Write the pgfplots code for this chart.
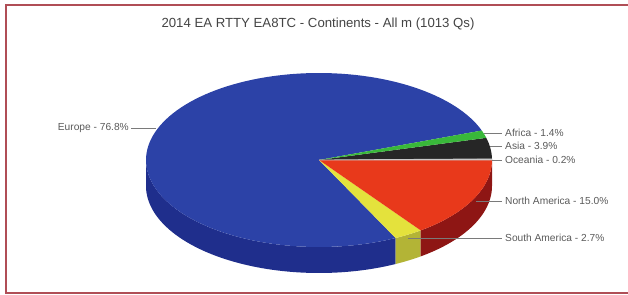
\documentclass[border=0pt]{standalone}
\usepackage{pgfplots}
\pgfplotsset{compat=1.18}
\usepackage{pgfplotstable}
\usepackage{fontspec}
\setmainfont{Liberation Sans}

\definecolor{euT}{HTML}{2C42A7}
\definecolor{euS}{HTML}{1F2E8C}
\definecolor{naT}{HTML}{E8391B}
\definecolor{naS}{HTML}{8E1614}
\definecolor{saT}{HTML}{E4E23C}
\definecolor{saS}{HTML}{B3B436}
\definecolor{afT}{HTML}{39B83A}
\definecolor{asT}{HTML}{262626}
\definecolor{ocT}{HTML}{C9C9C9}
\definecolor{frame}{HTML}{B04E56}
\definecolor{txt}{HTML}{5A5A5A}
\definecolor{ttl}{HTML}{444444}
\definecolor{lead}{HTML}{7A7A7A}

% shares in percent, counter-clockwise from 3 o'clock
\pgfplotstableread{
name share
Oceania 0.2
Asia 3.9
Africa 1.4
Europe 76.8
SouthAmerica 2.7
NorthAmerica 15.0
}\continents

\def\cx{319}
\def\cy{134}
\def\rx{173}
\def\ry{87}
\def\dd{26}

\begin{document}%
\begin{tikzpicture}
\pgfplotstablegetelem{0}{share}\of\continents \let\sOc\pgfplotsretval
\pgfplotstablegetelem{1}{share}\of\continents \let\sAs\pgfplotsretval
\pgfplotstablegetelem{2}{share}\of\continents \let\sAf\pgfplotsretval
\pgfplotstablegetelem{3}{share}\of\continents \let\sEu\pgfplotsretval
\pgfplotstablegetelem{4}{share}\of\continents \let\sSa\pgfplotsretval
\pgfplotstablegetelem{5}{share}\of\continents \let\sNa\pgfplotsretval
\pgfmathsetmacro\aA{0}
\pgfmathsetmacro\aB{\aA+3.6*\sOc}
\pgfmathsetmacro\aC{\aB+3.6*\sAs}
\pgfmathsetmacro\aD{\aC+3.6*\sAf}
\pgfmathsetmacro\aE{\aD+3.6*\sEu}
\pgfmathsetmacro\aF{\aE+3.6*\sSa}
\pgfmathsetmacro\aG{\aF+3.6*\sNa}
\begin{axis}[
  at={(0,0)}, anchor=south west,
  width=628pt, height=294pt, scale only axis,
  xmin=0, xmax=628, ymin=0, ymax=294,
  enlargelimits=false, axis lines=none, xtick=\empty, ytick=\empty, clip=false,
]
% --- sides (front half) ---
\addplot[fill=euS, draw=none, domain=180:\aE, samples=80, variable=\t]
  ({\cx+\rx*cos(\t)},{\cy-\dd+\ry*sin(\t)})
  -- (axis cs:{\cx+\rx*cos(\aE)},{\cy+\ry*sin(\aE)})
  arc[start angle=\aE, end angle=180, x radius=\rx pt, y radius=\ry pt] -- cycle;
\addplot[fill=saS, draw=none, domain=\aE:\aF, samples=10, variable=\t]
  ({\cx+\rx*cos(\t)},{\cy-\dd+\ry*sin(\t)})
  -- (axis cs:{\cx+\rx*cos(\aF)},{\cy+\ry*sin(\aF)})
  arc[start angle=\aF, end angle=\aE, x radius=\rx pt, y radius=\ry pt] -- cycle;
\addplot[fill=naS, draw=none, domain=\aF:\aG, samples=40, variable=\t]
  ({\cx+\rx*cos(\t)},{\cy-\dd+\ry*sin(\t)})
  -- (axis cs:{\cx+\rx*cos(\aG)},{\cy+\ry*sin(\aG)})
  arc[start angle=\aG, end angle=\aF, x radius=\rx pt, y radius=\ry pt] -- cycle;
% --- top faces ---
\addplot[fill=euT, draw=none, domain=\aD:\aE, samples=120, variable=\t]
  ({\cx+\rx*cos(\t)},{\cy+\ry*sin(\t)}) -- (axis cs:\cx,\cy) -- cycle;
\addplot[fill=saT, draw=none, domain=\aE:\aF, samples=10, variable=\t]
  ({\cx+\rx*cos(\t)},{\cy+\ry*sin(\t)}) -- (axis cs:\cx,\cy) -- cycle;
\addplot[fill=naT, draw=none, domain=\aF:\aG, samples=40, variable=\t]
  ({\cx+\rx*cos(\t)},{\cy+\ry*sin(\t)}) -- (axis cs:\cx,\cy) -- cycle;
\addplot[fill=asT, draw=none, domain=\aB:\aC, samples=10, variable=\t]
  ({\cx+\rx*cos(\t)},{\cy+\ry*sin(\t)}) -- (axis cs:\cx,\cy) -- cycle;
\addplot[fill=afT, draw=none, domain=\aC:\aD, samples=6, variable=\t]
  ({\cx+\rx*cos(\t)},{\cy+\ry*sin(\t)}) -- (axis cs:\cx,\cy) -- cycle;
\addplot[fill=ocT, draw=ocT, line width=0.8pt, domain=\aA:\aB, samples=3, variable=\t]
  ({\cx+\rx*cos(\t)},{\cy+\ry*sin(\t)}) -- (axis cs:\cx,\cy) -- cycle;
% --- leader lines ---
\addplot[lead, line width=0.6pt] coordinates {(131,166) (156,166)};
\addplot[lead, line width=0.6pt] coordinates {(484,161) (502,161)};
\addplot[lead, line width=0.6pt] coordinates {(490,148) (502,148)};
\addplot[lead, line width=0.6pt] coordinates {(492,134) (502,134)};
\addplot[lead, line width=0.6pt] coordinates {(476,93) (502,93)};
\addplot[lead, line width=0.6pt] coordinates {(408,56) (502,56)};
% --- labels ---
\node[anchor=east, inner sep=0pt, text=txt, font=\fontsize{10.2}{12}\selectfont] at (axis cs:129,166) {Europe - 76.8\%};
\node[anchor=west, inner sep=0pt, text=txt, font=\fontsize{10.2}{12}\selectfont] at (axis cs:505,161) {Africa - 1.4\%};
\node[anchor=west, inner sep=0pt, text=txt, font=\fontsize{10.2}{12}\selectfont] at (axis cs:505,148) {Asia - 3.9\%};
\node[anchor=west, inner sep=0pt, text=txt, font=\fontsize{10.2}{12}\selectfont] at (axis cs:505,134) {Oceania - 0.2\%};
\node[anchor=west, inner sep=0pt, text=txt, font=\fontsize{10.2}{12}\selectfont] at (axis cs:505,93) {North America - 15.0\%};
\node[anchor=west, inner sep=0pt, text=txt, font=\fontsize{10.2}{12}\selectfont] at (axis cs:505,56) {South America - 2.7\%};
% --- title ---
\node[text=ttl, font=\fontsize{13.2}{15}\selectfont, inner sep=0pt] at (axis cs:318,270) {2014 EA RTTY EA8TC - Continents - All m (1013 Qs)};
% --- frame ---
\addplot[frame, line width=2pt] coordinates {(628,288.5) (5.5,288.5) (5.5,1.5) (628,1.5)};
\end{axis}
\pgfresetboundingbox
\path[use as bounding box] (0,0) rectangle (628pt,294pt);
\end{tikzpicture}%
\end{document}
